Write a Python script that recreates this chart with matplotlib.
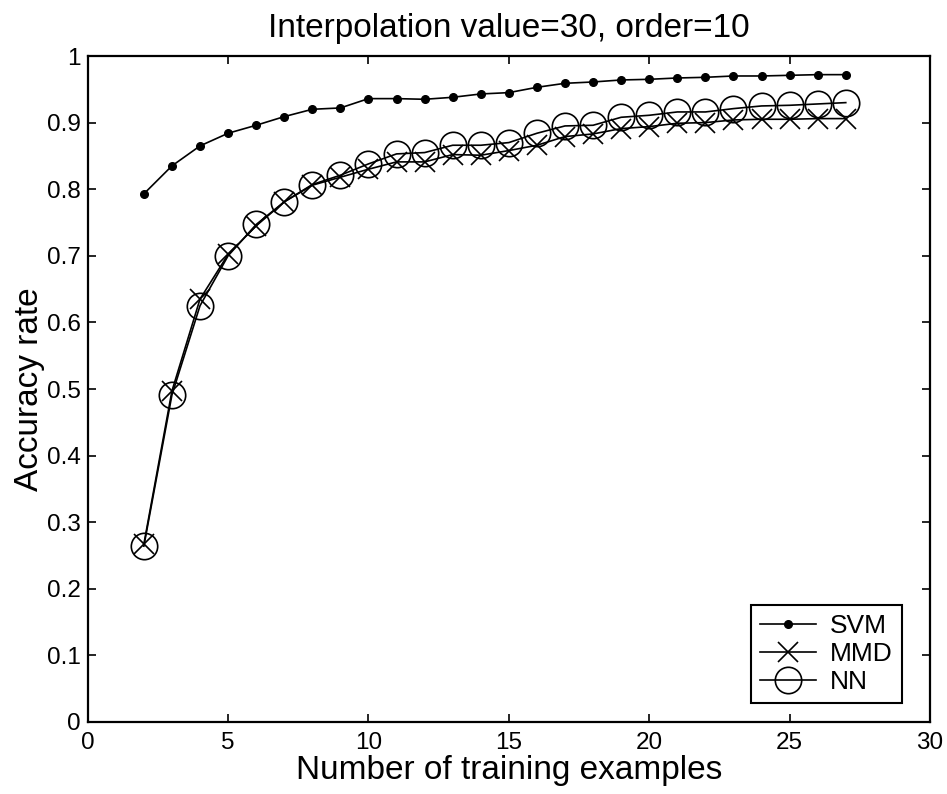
import matplotlib
matplotlib.use("Agg")
import matplotlib.pyplot as plt

plt.rcParams['font.family'] = ['Liberation Sans', 'DejaVu Sans']

x_vals = list(range(2, 28))
svm = [0.793, 0.835, 0.865, 0.884, 0.896, 0.909, 0.920, 0.922, 0.936, 0.936,
       0.935, 0.938, 0.943, 0.945, 0.953, 0.959, 0.961, 0.964, 0.965, 0.967,
       0.968, 0.970, 0.970, 0.971, 0.972, 0.972]
mmd = [0.267, 0.497, 0.635, 0.702, 0.745, 0.781, 0.806, 0.818, 0.830, 0.841,
       0.841, 0.852, 0.851, 0.858, 0.866, 0.879, 0.883, 0.891, 0.894, 0.899,
       0.900, 0.904, 0.905, 0.905, 0.906, 0.906]
nn = [0.264, 0.491, 0.625, 0.700, 0.747, 0.781, 0.807, 0.821, 0.838, 0.853,
      0.855, 0.866, 0.866, 0.870, 0.884, 0.895, 0.896, 0.908, 0.911, 0.916,
      0.916, 0.921, 0.925, 0.926, 0.928, 0.930]
xticks = [0, 5, 10, 15, 20, 25, 30]
yticks = [0, 0.1, 0.2, 0.3, 0.4, 0.5, 0.6, 0.7, 0.8, 0.9, 1]
ytick_labels = ['0', '0.1', '0.2', '0.3', '0.4', '0.5', '0.6', '0.7', '0.8', '0.9', '1']

fig = plt.figure(figsize=(9.47, 7.94), dpi=100)
ax = fig.add_axes([87.7 / 947, 1 - 722 / 794, (930 - 87.7) / 947, (722 - 56) / 794])

lw = 1.2
ax.plot(x_vals, svm, color='black', lw=lw, marker='o', markersize=5.5, label='SVM')
ax.plot(x_vals, mmd, color='black', lw=lw, marker='x', markersize=14,
        markeredgewidth=1.2, label='MMD')
ax.plot(x_vals, nn, color='black', lw=lw, marker='o', markersize=19,
        markerfacecolor='none', markeredgewidth=1.2, label='NN')

ax.set_xlim(0, 30)
ax.set_ylim(0, 1)
ax.set_xticks(xticks)
ax.set_xticklabels([str(t) for t in xticks])
ax.set_yticks(yticks)
ax.set_yticklabels(ytick_labels)
ax.tick_params(direction='in', length=6, width=1.2, top=True, right=True,
               labelsize=17.5, color='black')
ax.tick_params(axis='x', pad=7)
ax.tick_params(axis='y', pad=5)
for s in ax.spines.values():
    s.set_linewidth(1.6)

ax.set_title('Interpolation value=30, order=10', fontsize=24, pad=14)
ax.set_xlabel('Number of training examples', fontsize=24, labelpad=1)
ax.set_ylabel('Accuracy rate', fontsize=24, labelpad=1)

leg = ax.legend(loc='lower right', bbox_to_anchor=(0.9668, 0.0285), borderaxespad=0,
                fontsize=19, fancybox=False, framealpha=1, edgecolor='black',
                handlelength=2.1, handletextpad=0.55, labelspacing=0.15,
                borderpad=0.35)
leg.get_frame().set_linewidth(1.5)

fig.savefig('out.png', dpi=100)
